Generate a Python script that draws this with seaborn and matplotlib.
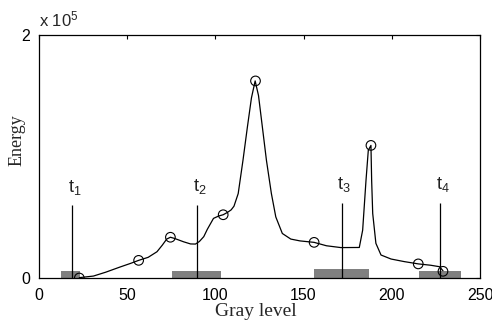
import numpy as np
import pandas as pd
import matplotlib
matplotlib.use("Agg")
import matplotlib.pyplot as plt
import seaborn as sns

# Energy curve (gray level, energy)
gray = [23, 31, 38, 46, 52, 56.6, 62, 67, 70, 72.5, 74.6, 77, 82, 86, 88.8, 91,
        93.5, 95.5, 99, 102, 104.5, 107, 109, 110.6, 113, 115.7, 118.2, 120.5,
        122.6, 124.5, 126.7, 129, 131.8, 134.3, 138, 142.8, 148, 156, 163, 171.2,
        181.6, 183.5, 185.4, 186.7, 188.2, 188.6, 189.2, 191, 193.9, 199.6, 207,
        215, 222, 227, 229]
energy = [300, 1600, 4800, 9000, 12000, 14500, 17000, 21600, 27000, 32000, 33500,
          32500, 29800, 28000, 27900, 30000, 34000, 40000, 49000, 51000, 52000,
          54000, 56000, 59000, 69400, 96700, 124000, 148000, 162000, 150000, 124000,
          96700, 69400, 50200, 36600, 32000, 30500, 29300, 26500, 25000, 25100,
          39300, 80300, 105000, 109000, 80000, 53000, 28500, 18900, 15600, 13500,
          11600, 10500, 9300, 6000]

# circled extrema
peak_gray = [23, 56.6, 74.6, 104.5, 122.8, 156, 188.2, 215, 229]
peak_energy = [0, 14500, 33500, 52000, 162000, 29300, 109000, 11600, 5500]

# thresholds and their ranges
t_labels = ["1", "2", "3", "4"]
t_pos = [19.1, 89.8, 171.6, 227.5]
t_top = [59600, 60000, 61700, 61700]
range_lo = [12.6, 75.7, 155.7, 215.5]
range_hi = [23.5, 103, 187.3, 239.4]
range_h = [6000, 6000, 7000, 5700]

sns.set_theme(style="white")
plt.rcParams["font.family"] = ["Liberation Sans", "DejaVu Sans"]
plt.rcParams["mathtext.fontset"] = "custom"
plt.rcParams["mathtext.rm"] = "Liberation Sans"
plt.rcParams["mathtext.it"] = "Liberation Sans"

fig = plt.figure(figsize=(4.92, 3.23), dpi=100)
ax = fig.add_axes([0.0787, 0.1393, 0.8970, 0.7533])

# gray range bars
ax.bar(range_lo, range_h, width=np.array(range_hi) - np.array(range_lo),
       align="edge", color="#808080", edgecolor="none", zorder=1)

df = pd.DataFrame({"gray": gray, "energy": energy})
sns.lineplot(data=df, x="gray", y="energy", color="black", lw=0.9, ax=ax, zorder=3)

pk = pd.DataFrame({"gray": peak_gray, "energy": peak_energy})
sns.scatterplot(data=pk, x="gray", y="energy", s=48, facecolor="none",
                edgecolor="black", linewidth=0.8, ax=ax, zorder=4)

ax.vlines(t_pos, 0, t_top, color="black", lw=0.9, zorder=2)
for x, top, lab in zip(t_pos, t_top, t_labels):
    ax.text(x + 1.5, top + 7000, r"t$_{\mathrm{" + lab + "}}$", ha="center",
            va="bottom", fontsize=13, color="#222222")

ax.set_xlim(0, 250)
ax.set_ylim(0, 2e5)
ax.set_xticks([0, 50, 100, 150, 200, 250])
ax.set_yticks([0, 2e5])
ax.set_yticklabels(["0", "2"])
ax.tick_params(direction="in", length=3, width=0.8, top=True, right=True,
               labelsize=11.5, colors="black", pad=6)
ax.tick_params(axis="x", pad=7)
for s in ax.spines.values():
    s.set_color("black")
    s.set_linewidth(0.9)
ax.set_xlabel("")
ax.set_ylabel("")

ax.text(0.0, 1.02, r"x 10$^{5}$", transform=ax.transAxes, ha="left", va="bottom",
        fontsize=12)
fig.text(256 / 492, 1 - 311 / 323, "Gray level", ha="center", va="center",
         fontsize=14, family="Liberation Serif")
fig.text(17.5 / 492, 1 - 140 / 323, "Energy", ha="center", va="center",
         rotation=90, fontsize=13, family="Liberation Serif")

fig.savefig("out.png", dpi=100)
